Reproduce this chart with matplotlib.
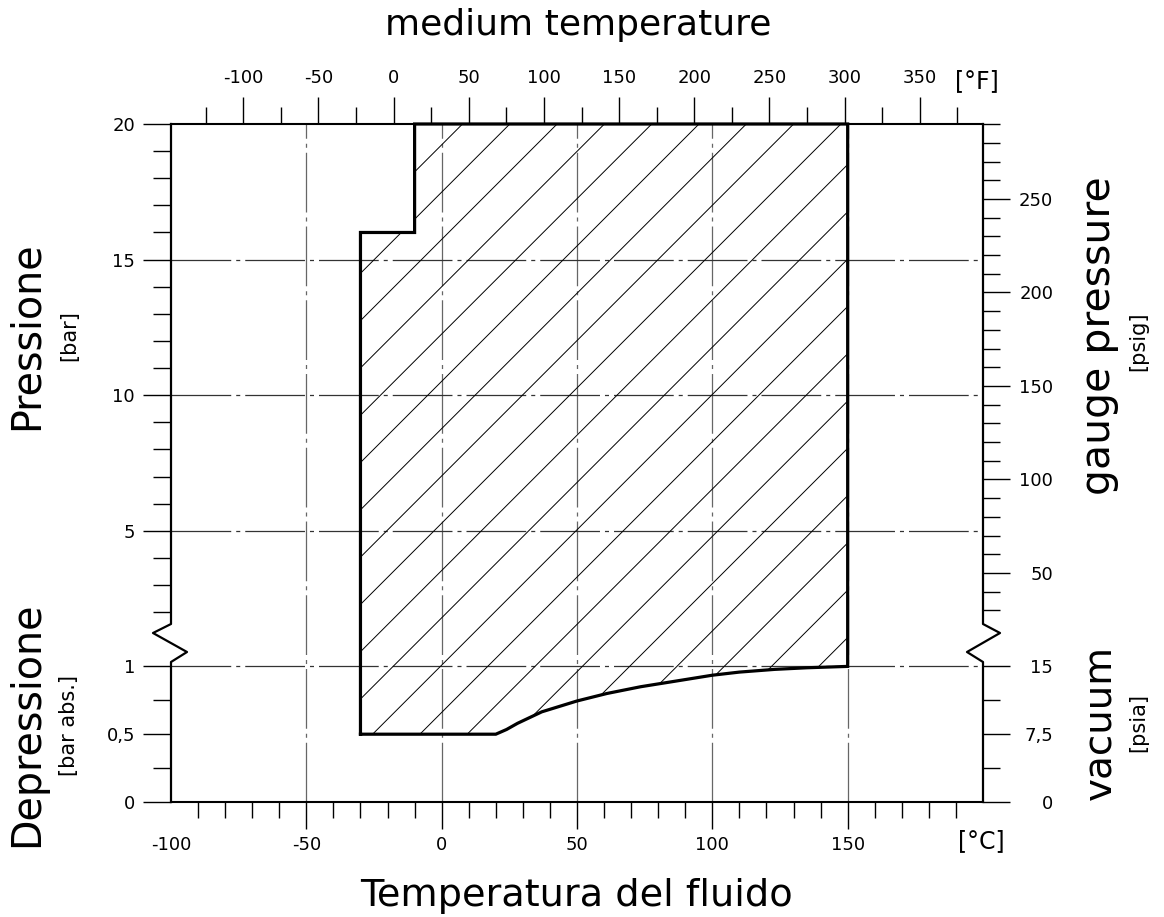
import numpy as np
import matplotlib
matplotlib.use('Agg')
import matplotlib.pyplot as plt
from matplotlib.patches import Polygon

plt.rcParams['font.family'] = ['DejaVu Sans']
plt.rcParams['lines.scale_dashes'] = False

# operating envelope (temperature degC, pressure bar)
edge_t = [-30, -30, -10, -10, 150]
edge_p = [0.5, 16, 16, 20, 20]
curve_t = [20, 24, 28, 37, 50, 61, 73.5, 86, 100, 110, 123, 135, 150]
curve_p = [0.5, 0.535, 0.58, 0.665, 0.745, 0.8, 0.85, 0.89, 0.935, 0.958, 0.978, 0.99, 1.0]

# left axis (bar)
bar_major = [0, 0.5, 1, 5, 10, 15, 20]
bar_labels = ['0', '0,5', '1', '5', '10', '15', '20']
bar_minor = [0.25, 0.75, 2, 3, 4, 6, 7, 8, 9, 11, 12, 13, 14, 16, 17, 18, 19]

# right axis (psia below 1 bar, psig above)
psia_major = [0, 7.5, 15]
psia_labels = ['0', '7,5', '15']
psia_minor = [3.75, 11.25]
psig_major = [50, 100, 150, 200, 250]
psig_minor = [30, 40, 60, 70, 80, 90, 110, 120, 130, 140, 160, 170, 180, 190,
              210, 220, 230, 240, 260, 270, 280, 290]

# temperature ticks
c_major = [-100, -50, 0, 50, 100, 150]
c_minor = list(range(-90, 200, 10))
f_major = [-100, -50, 0, 50, 100, 150, 200, 250, 300, 350]
f_minor = [-125, -75, -25, 25, 75, 125, 175, 225, 275, 325, 375]

grid_t = [-50, 0, 50, 100, 150]
grid_p = [1, 5, 10, 15]


def fwd(p):
    p = np.asarray(p, dtype=float)
    return np.where(p <= 1, 5 * p, np.where(p <= 2, 5 + 2 * (p - 1), p + 5))


def inv(y):
    y = np.asarray(y, dtype=float)
    return np.where(y <= 5, y / 5, np.where(y <= 7, 1 + (y - 5) / 2, y - 5))


W, H = 1164, 917
fig = plt.figure(figsize=(W / 100, H / 100), dpi=100)
ax = fig.add_axes([171 / W, 1 - 802 / H, 812 / W, 678 / H])
ax.set_yscale('function', functions=(fwd, inv))
ax.set_xlim(-100, 200)
ax.set_ylim(0, 20)

# grid (dash-dot)
dd = (0, (43, 3.6, 2.9, 3.6))
for t in grid_t:
    ax.axvline(t, color='#666666', lw=0.9, ls=dd, zorder=1)
for p in grid_p:
    ax.axhline(p, color='#333333', lw=0.9, ls=dd, zorder=1)

# envelope
poly_t = edge_t + curve_t[::-1] + [edge_t[0]]
poly_p = edge_p + curve_p[::-1] + [edge_p[0]]
clip = Polygon(np.column_stack([poly_t, poly_p]), closed=True, fill=False,
               edgecolor='none', transform=ax.transData)
ax.add_patch(clip)

aw, ah = 812.0, 678.0
for k in range(-20, 20):
    s = 480.7 + 47.3 * k
    ln, = ax.plot([(s - ah) / aw, s / aw], [0, 1], color='black', lw=0.7,
                  transform=ax.transAxes, zorder=2)
    ln.set_clip_path(clip)

ax.plot(poly_t, poly_p, color='black', lw=2.3, solid_joinstyle='miter', zorder=4,
        clip_on=False)

# frame with axis breaks
for s in ['left', 'right']:
    ax.spines[s].set_visible(False)
for s in ['top', 'bottom']:
    ax.spines[s].set_linewidth(1.5)
ax.plot([0, 0, 16 / aw, -18 / aw, 0, 0],
        [0, 140 / ah, 150 / ah, 169 / ah, 178 / ah, 1],
        color='black', lw=1.6, transform=ax.transAxes, clip_on=False, zorder=5)
ax.plot([1, 1, 1 - 16 / aw, 1 + 17 / aw, 1, 1],
        [0, 140 / ah, 150 / ah, 169 / ah, 178 / ah, 1],
        color='black', lw=1.6, transform=ax.transAxes, clip_on=False, zorder=5)

# bottom axis (degC)
ax.set_xticks(c_major)
ax.set_xticklabels([str(v) for v in c_major])
ax.set_xticks([v for v in c_minor if v not in c_major], minor=True)
ax.tick_params(axis='x', which='major', direction='out', length=19.5, width=1,
               pad=5, labelsize=13)
ax.tick_params(axis='x', which='minor', direction='out', length=11.5, width=1)
ax.xaxis.get_major_ticks()[0].tick1line.set_visible(False)

# left axis (bar)
ax.set_yticks(bar_major)
ax.set_yticklabels(bar_labels)
ax.set_yticks(bar_minor, minor=True)
ax.tick_params(axis='y', which='major', direction='out', length=20, width=1,
               pad=6, labelsize=13)
ax.tick_params(axis='y', which='minor', direction='out', length=13, width=1)

# right axis
rax = ax.twinx()
rax.set_yscale('function', functions=(fwd, inv))
rax.set_ylim(0, 20)
for s in rax.spines.values():
    s.set_visible(False)
r_major = [v / 15 for v in psia_major] + [v / 14.5038 for v in psig_major]
r_labels = psia_labels + [str(v) for v in psig_major]
r_minor = [v / 15 for v in psia_minor] + [v / 14.5038 for v in psig_minor]
rax.set_yticks(r_major)
rax.set_yticklabels(r_labels)
rax.set_yticks(r_minor, minor=True)
rax.tick_params(axis='y', which='major', direction='out', length=19.5, width=1,
                pad=31, labelsize=13)
rax.tick_params(axis='y', which='minor', direction='out', length=12, width=1)
for lab in rax.get_yticklabels():
    lab.set_ha('right')

# top axis (degF)
tax = ax.secondary_xaxis('top', functions=(lambda c: c * 9 / 5 + 32,
                                           lambda f: (f - 32) * 5 / 9))
tax.spines['top'].set_visible(False)
tax.set_xticks(f_major)
tax.set_xticklabels([str(v) for v in f_major])
tax.set_xticks(f_minor, minor=True)
tax.tick_params(axis='x', which='major', direction='out', length=19.5, width=1,
                pad=7, labelsize=13)
tax.tick_params(axis='x', which='minor', direction='out', length=12, width=1)

# texts


def ftext(x, y, s, size, rot=0):
    fig.text(x / W, 1 - y / H, s, fontsize=size, rotation=rot,
             ha='center', va='center')


ftext(578, 25, 'medium temperature', 26)
ftext(577, 896, 'Temperatura del fluido', 27.5)
ftext(27, 336, 'Pressione', 28.5, 90)
ftext(69, 336, '[bar]', 15, 90)
ftext(27, 724, 'Depressione', 28.5, 90)
ftext(69, 725, '[bar abs.]', 15, 90)
ftext(1099, 336, 'gauge pressure', 29.5, 90)
ftext(1138, 341, '[psig]', 15, 90)
ftext(1099, 722, 'vacuum', 28, 90)
ftext(1138, 723, '[psia]', 15, 90)
ftext(981, 841, '[°C]', 17)
ftext(977, 81, '[°F]', 17)

fig.savefig('out.png', dpi=100)
